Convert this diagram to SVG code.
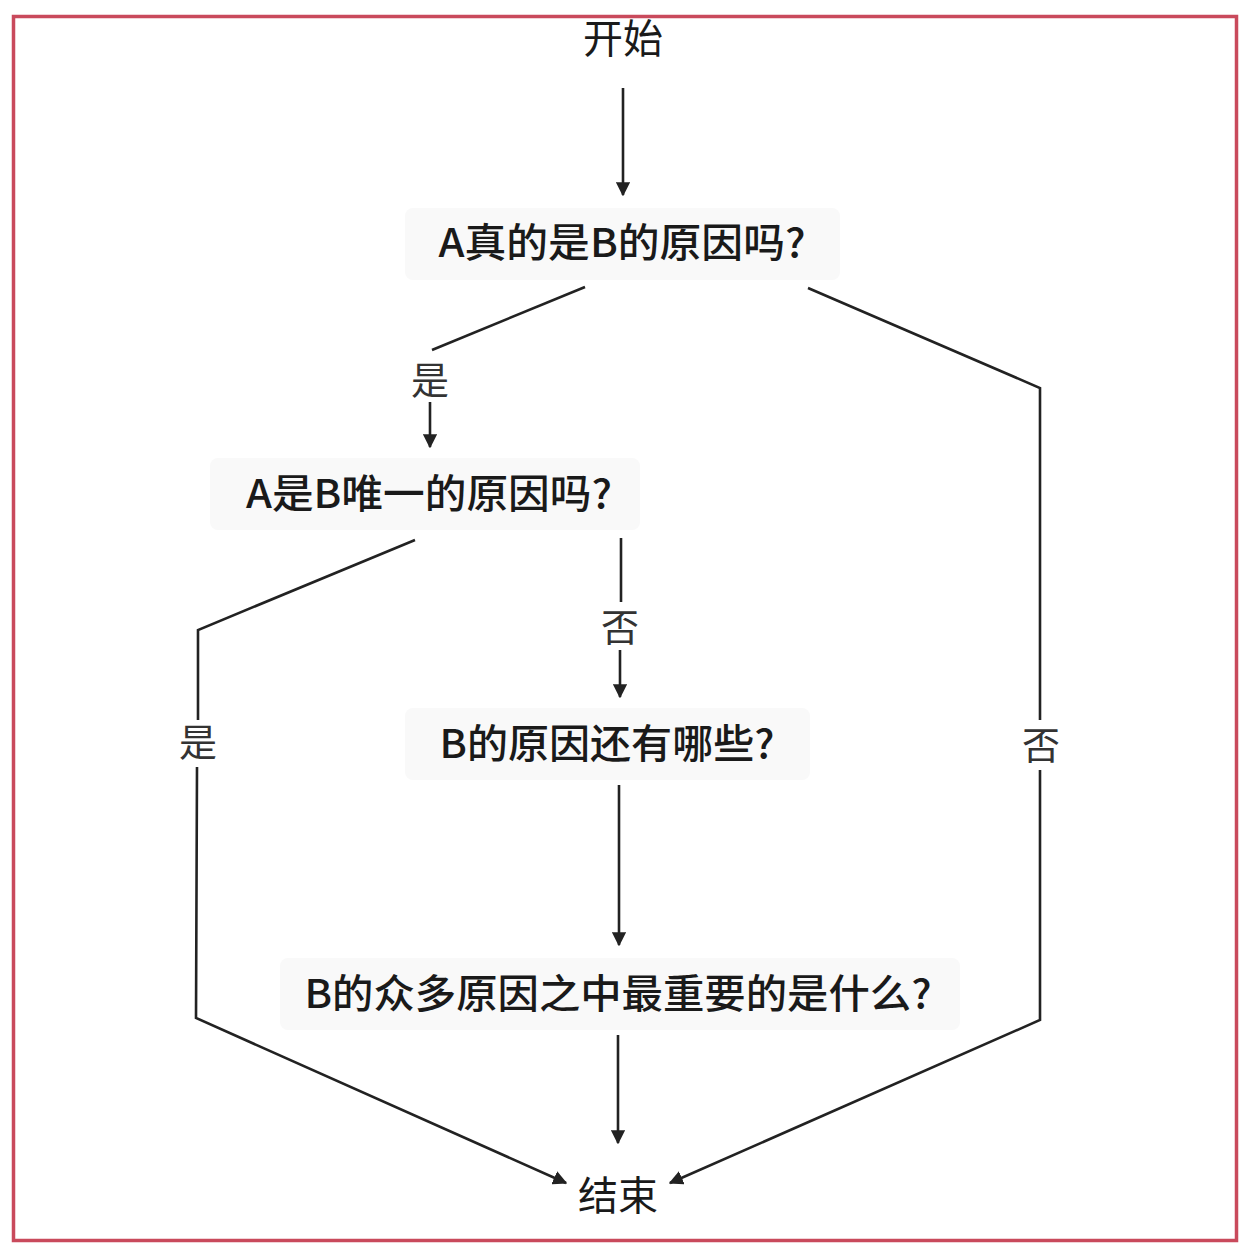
<svg xmlns="http://www.w3.org/2000/svg" width="1248" height="1246" viewBox="0 0 1248 1246">
<style>
.t{font-family:"Noto Sans CJK SC","Noto Sans",sans-serif;font-size:40px;font-weight:500;fill:#1a1a1a;text-anchor:middle}
.se{font-weight:400}
.l{font-family:"Noto Sans CJK SC","Noto Sans",sans-serif;font-size:38px;fill:#333;text-anchor:middle}
.c{fill:none;stroke:#222;stroke-width:2.6}
.bg{fill:#f9f9f9}
</style>
<defs>
<marker id="ah" viewBox="0 0 10 10" refX="9" refY="5" markerWidth="5.5" markerHeight="5.5" markerUnits="strokeWidth" orient="auto">
<path d="M0,0 L10,5 L0,10 z" fill="#222"/>
</marker>
</defs>
<rect x="0" y="0" width="1248" height="1246" fill="#fff"/>
<rect x="13.5" y="16.5" width="1223" height="1224" fill="none" stroke="#c94a5c" stroke-width="3.5"/>

<g id="connectors">
<line class="c" x1="623" y1="88" x2="623" y2="195" marker-end="url(#ah)"/>
<polyline class="c" points="585,287 432,350"/>
<line class="c" x1="430" y1="402" x2="430" y2="447" marker-end="url(#ah)"/>
<polyline class="c" points="415,540 198,630 198,720"/>
<polyline class="c" points="197,767 196,1018 566,1183" marker-end="url(#ah)"/>
<line class="c" x1="621" y1="538" x2="621" y2="602"/>
<line class="c" x1="620" y1="650" x2="620" y2="697" marker-end="url(#ah)"/>
<line class="c" x1="619" y1="785" x2="619" y2="945" marker-end="url(#ah)"/>
<line class="c" x1="618" y1="1035" x2="618" y2="1143" marker-end="url(#ah)"/>
<polyline class="c" points="808,288 1040,388 1040,720"/>
<polyline class="c" points="1040,770 1040,1020 670,1183" marker-end="url(#ah)"/>
</g>

<g id="n-start">
<text class="t se" x="623" y="53" textLength="80" lengthAdjust="spacingAndGlyphs">开始</text>
</g>
<g id="n-q1">
<rect class="bg" x="405" y="208" width="435" height="72" rx="8"/>
<text class="t" x="622" y="257" textLength="367" lengthAdjust="spacingAndGlyphs">A真的是B的原因吗?</text>
</g>
<g id="l-yes1">
<text class="l" x="430" y="394">是</text>
</g>
<g id="n-q2">
<rect class="bg" x="210" y="458" width="430" height="72" rx="8"/>
<text class="t" x="429" y="508" textLength="366" lengthAdjust="spacingAndGlyphs">A是B唯一的原因吗?</text>
</g>
<g id="l-no1">
<text class="l" x="620" y="641">否</text>
</g>
<g id="l-yes2">
<text class="l" x="198" y="756">是</text>
</g>
<g id="n-q3">
<rect class="bg" x="405" y="708" width="405" height="72" rx="8"/>
<text class="t" x="607" y="758" textLength="335" lengthAdjust="spacingAndGlyphs">B的原因还有哪些?</text>
</g>
<g id="l-no2">
<text class="l" x="1041" y="759">否</text>
</g>
<g id="n-q4">
<rect class="bg" x="280" y="958" width="680" height="72" rx="8"/>
<text class="t" x="618" y="1008" textLength="627" lengthAdjust="spacingAndGlyphs">B的众多原因之中最重要的是什么?</text>
</g>
<g id="n-end">
<text class="t se" x="618" y="1210" textLength="80" lengthAdjust="spacingAndGlyphs">结束</text>
</g>
</svg>
